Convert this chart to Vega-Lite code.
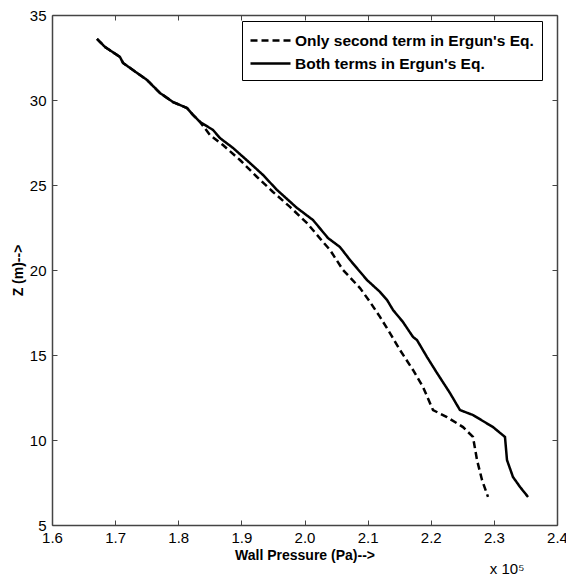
{
  "$schema": "https://vega.github.io/schema/vega-lite/v6.json",
  "width": 505,
  "height": 510,
  "autosize": {"type": "none"},
  "padding": {"left": 52, "top": 15, "right": 9, "bottom": 55},
  "background": "white",
  "title": {"text": "x 10⁵", "orient": "bottom", "anchor": "end", "fontSize": 15, "fontWeight": "normal", "font": "Liberation Sans", "color": "black", "offset": 0, "dx": -43},
  "config": {
    "view": {"stroke": null},
    "axis": {"labelFont": "Liberation Sans", "labelFontSize": 15, "labelColor": "black", "titleFont": "Liberation Sans", "titleFontSize": 14, "titleFontWeight": "bold", "titleColor": "black", "domainColor": "#444", "domainWidth": 1.5, "tickColor": "#444", "tickWidth": 1, "grid": false}
  },
  "data": {"values": [
    {"series": "Both terms in Ergun's Eq.", "p": 1.6713, "z": 33.59},
    {"series": "Both terms in Ergun's Eq.", "p": 1.684, "z": 33.12},
    {"series": "Both terms in Ergun's Eq.", "p": 1.7077, "z": 32.53},
    {"series": "Both terms in Ergun's Eq.", "p": 1.7125, "z": 32.18},
    {"series": "Both terms in Ergun's Eq.", "p": 1.7283, "z": 31.76},
    {"series": "Both terms in Ergun's Eq.", "p": 1.7505, "z": 31.18},
    {"series": "Both terms in Ergun's Eq.", "p": 1.7711, "z": 30.41},
    {"series": "Both terms in Ergun's Eq.", "p": 1.7917, "z": 29.88},
    {"series": "Both terms in Ergun's Eq.", "p": 1.8139, "z": 29.53},
    {"series": "Both terms in Ergun's Eq.", "p": 1.8234, "z": 29.12},
    {"series": "Both terms in Ergun's Eq.", "p": 1.8345, "z": 28.71},
    {"series": "Both terms in Ergun's Eq.", "p": 1.855, "z": 28.24},
    {"series": "Both terms in Ergun's Eq.", "p": 1.8661, "z": 27.76},
    {"series": "Both terms in Ergun's Eq.", "p": 1.8867, "z": 27.18},
    {"series": "Both terms in Ergun's Eq.", "p": 1.9137, "z": 26.29},
    {"series": "Both terms in Ergun's Eq.", "p": 1.9343, "z": 25.59},
    {"series": "Both terms in Ergun's Eq.", "p": 1.9564, "z": 24.71},
    {"series": "Both terms in Ergun's Eq.", "p": 1.9881, "z": 23.65},
    {"series": "Both terms in Ergun's Eq.", "p": 2.0135, "z": 22.94},
    {"series": "Both terms in Ergun's Eq.", "p": 2.0372, "z": 21.88},
    {"series": "Both terms in Ergun's Eq.", "p": 2.0562, "z": 21.35},
    {"series": "Both terms in Ergun's Eq.", "p": 2.0721, "z": 20.59},
    {"series": "Both terms in Ergun's Eq.", "p": 2.099, "z": 19.41},
    {"series": "Both terms in Ergun's Eq.", "p": 2.1196, "z": 18.71},
    {"series": "Both terms in Ergun's Eq.", "p": 2.1307, "z": 18.24},
    {"series": "Both terms in Ergun's Eq.", "p": 2.1402, "z": 17.65},
    {"series": "Both terms in Ergun's Eq.", "p": 2.156, "z": 16.94},
    {"series": "Both terms in Ergun's Eq.", "p": 2.1719, "z": 16.06},
    {"series": "Both terms in Ergun's Eq.", "p": 2.1782, "z": 15.88},
    {"series": "Both terms in Ergun's Eq.", "p": 2.1941, "z": 14.88},
    {"series": "Both terms in Ergun's Eq.", "p": 2.2099, "z": 13.94},
    {"series": "Both terms in Ergun's Eq.", "p": 2.2305, "z": 12.76},
    {"series": "Both terms in Ergun's Eq.", "p": 2.2463, "z": 11.76},
    {"series": "Both terms in Ergun's Eq.", "p": 2.2669, "z": 11.47},
    {"series": "Both terms in Ergun's Eq.", "p": 2.2986, "z": 10.76},
    {"series": "Both terms in Ergun's Eq.", "p": 2.3176, "z": 10.18},
    {"series": "Both terms in Ergun's Eq.", "p": 2.3208, "z": 8.82},
    {"series": "Both terms in Ergun's Eq.", "p": 2.3303, "z": 7.82},
    {"series": "Both terms in Ergun's Eq.", "p": 2.3414, "z": 7.24},
    {"series": "Both terms in Ergun's Eq.", "p": 2.3541, "z": 6.65},
    {"series": "Only second term in Ergun's Eq.", "p": 1.6713, "z": 33.59},
    {"series": "Only second term in Ergun's Eq.", "p": 1.684, "z": 33.12},
    {"series": "Only second term in Ergun's Eq.", "p": 1.7077, "z": 32.53},
    {"series": "Only second term in Ergun's Eq.", "p": 1.7125, "z": 32.18},
    {"series": "Only second term in Ergun's Eq.", "p": 1.7283, "z": 31.76},
    {"series": "Only second term in Ergun's Eq.", "p": 1.7505, "z": 31.18},
    {"series": "Only second term in Ergun's Eq.", "p": 1.7711, "z": 30.41},
    {"series": "Only second term in Ergun's Eq.", "p": 1.7917, "z": 29.88},
    {"series": "Only second term in Ergun's Eq.", "p": 1.8139, "z": 29.53},
    {"series": "Only second term in Ergun's Eq.", "p": 1.8234, "z": 29.12},
    {"series": "Only second term in Ergun's Eq.", "p": 1.8345, "z": 28.71},
    {"series": "Only second term in Ergun's Eq.", "p": 1.8503, "z": 27.94},
    {"series": "Only second term in Ergun's Eq.", "p": 1.8709, "z": 27.35},
    {"series": "Only second term in Ergun's Eq.", "p": 1.8978, "z": 26.47},
    {"series": "Only second term in Ergun's Eq.", "p": 1.9248, "z": 25.47},
    {"series": "Only second term in Ergun's Eq.", "p": 1.9501, "z": 24.59},
    {"series": "Only second term in Ergun's Eq.", "p": 1.977, "z": 23.71},
    {"series": "Only second term in Ergun's Eq.", "p": 2.004, "z": 22.76},
    {"series": "Only second term in Ergun's Eq.", "p": 2.0293, "z": 21.65},
    {"series": "Only second term in Ergun's Eq.", "p": 2.0404, "z": 21.18},
    {"series": "Only second term in Ergun's Eq.", "p": 2.061, "z": 20.0},
    {"series": "Only second term in Ergun's Eq.", "p": 2.0879, "z": 18.94},
    {"series": "Only second term in Ergun's Eq.", "p": 2.1038, "z": 18.12},
    {"series": "Only second term in Ergun's Eq.", "p": 2.1196, "z": 17.24},
    {"series": "Only second term in Ergun's Eq.", "p": 2.1354, "z": 16.29},
    {"series": "Only second term in Ergun's Eq.", "p": 2.1513, "z": 15.29},
    {"series": "Only second term in Ergun's Eq.", "p": 2.1719, "z": 14.12},
    {"series": "Only second term in Ergun's Eq.", "p": 2.1877, "z": 13.12},
    {"series": "Only second term in Ergun's Eq.", "p": 2.2036, "z": 11.76},
    {"series": "Only second term in Ergun's Eq.", "p": 2.2257, "z": 11.35},
    {"series": "Only second term in Ergun's Eq.", "p": 2.2511, "z": 10.76},
    {"series": "Only second term in Ergun's Eq.", "p": 2.2669, "z": 10.18},
    {"series": "Only second term in Ergun's Eq.", "p": 2.2733, "z": 8.82},
    {"series": "Only second term in Ergun's Eq.", "p": 2.2812, "z": 7.65},
    {"series": "Only second term in Ergun's Eq.", "p": 2.2907, "z": 6.65}
  ]},
  "layer": [
    {
      "mark": {"type": "line", "color": "black", "strokeWidth": 2.5, "clip": true},
      "encoding": {
        "x": {"field": "p", "type": "quantitative", "scale": {"domain": [1.6, 2.4], "nice": false, "zero": false},
              "axis": {"orient": "bottom", "title": "Wall Pressure (Pa)-->", "values": [1.6,1.7,1.8,1.9,2.0,2.1,2.2,2.3,2.4], "format": ".1f", "tickSize": -5, "labelPadding": 10, "titlePadding": 3, "labelFlush": false}},
        "y": {"field": "z", "type": "quantitative", "scale": {"domain": [5, 35], "nice": false, "zero": false},
              "axis": {"orient": "left", "title": "Z (m)-->", "values": [5,10,15,20,25,30,35], "tickSize": -5, "labelPadding": 11, "titlePadding": 4, "labelFlush": false}},
        "order": {"field": "z", "sort": "descending"},
        "strokeDash": {"field": "series", "type": "nominal",
          "scale": {"domain": ["Only second term in Ergun's Eq.", "Both terms in Ergun's Eq."], "range": [[7, 4], [1, 0]]},
          "legend": {"orient": "none", "legendX": 190, "legendY": 6, "title": null, "symbolType": "M-2,0H2", "symbolSize": 400, "symbolOffset": 9, "symbolStrokeWidth": 2.5, "symbolStrokeColor": "black", "symbolFillColor": "transparent", "labelFont": "Liberation Sans", "labelFontSize": 15.5, "labelFontWeight": "bold", "labelColor": "black", "labelLimit": 400, "strokeColor": "black", "fillColor": "white", "padding": 8, "rowPadding": 3, "labelOffset": 13}
        }
      }
    },
    {
      "mark": {"type": "line", "opacity": 0},
      "encoding": {
        "x": {"field": "p", "type": "quantitative", "scale": {"domain": [1.6, 2.4], "nice": false, "zero": false},
              "axis": {"orient": "top", "title": null, "labels": false, "values": [1.6,1.7,1.8,1.9,2.0,2.1,2.2,2.3,2.4], "tickSize": -5}},
        "y": {"field": "z", "type": "quantitative", "scale": {"domain": [5, 35], "nice": false, "zero": false},
              "axis": {"orient": "right", "title": null, "labels": false, "values": [5,10,15,20,25,30,35], "tickSize": -5}},
        "detail": {"field": "series"}
      }
    }
  ],
  "resolve": {"axis": {"x": "independent", "y": "independent"}}
}
